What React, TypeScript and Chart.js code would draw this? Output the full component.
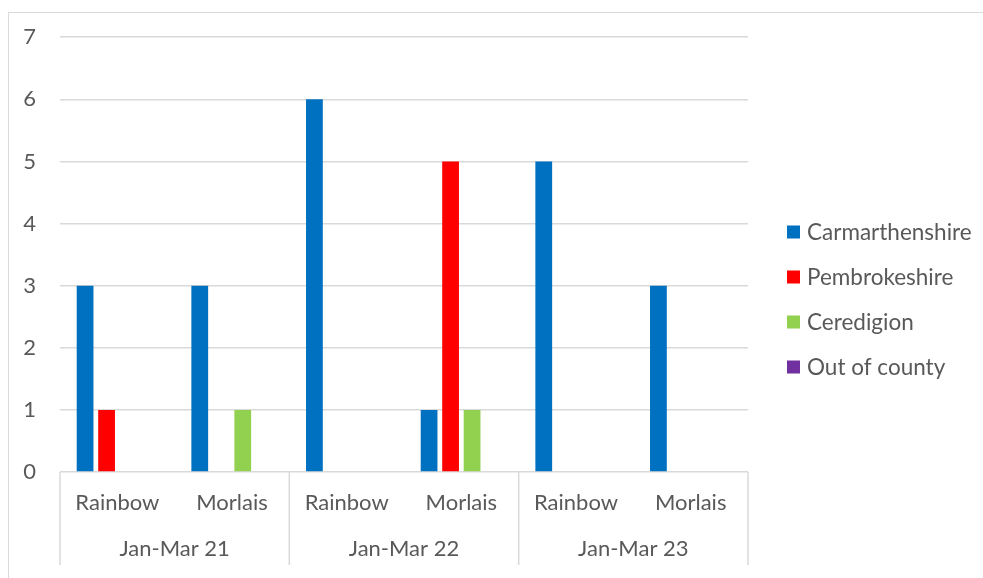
import React, { useEffect, useRef } from "react";
import { Chart, registerables } from "chart.js";

Chart.register(...registerables);

const categories = ["Rainbow", "Morlais", "Rainbow", "Morlais", "Rainbow", "Morlais"];
const periods = ["Jan-Mar 21", "Jan-Mar 22", "Jan-Mar 23"];
const seriesNames = ["Carmarthenshire", "Pembrokeshire", "Ceredigion", "Out of county"];
const carmarthenshire = [3, 3, 6, 1, 5, 3];
const pembrokeshire = [1, 0, 0, 5, 0, 0];
const ceredigion = [0, 1, 0, 1, 0, 0];
const outOfCounty = [0, 0, 0, 0, 0, 0];
const seriesColors = ["#0070C0", "#FF0000", "#92D050", "#7030A0"];
const yMin = 0;
const yMax = 7;
const yStep = 1;

const FONT = "Lato, 'Open Sans', sans-serif";
const TEXT = "#595959";
const GRID = "#d9d9d9";

const decorPlugin = {
  id: "decor",
  beforeDraw(chart: any) {
    const ctx = chart.ctx;
    ctx.save();
    ctx.strokeStyle = GRID;
    ctx.lineWidth = 1;
    ctx.strokeRect(8.5, 12.5, 1100, 700);
    ctx.restore();
  },
  afterDraw(chart: any) {
    const ctx = chart.ctx;
    const x = chart.scales.x;
    const area = chart.chartArea;
    const n = categories.length;
    const cw = (area.right - area.left) / n;
    ctx.save();
    // separators between period groups
    ctx.strokeStyle = GRID;
    ctx.lineWidth = 1.5;
    for (let k = 0; k <= periods.length; k++) {
      const px = k * 2 < n ? x.getPixelForValue(k * 2) - cw / 2 : x.getPixelForValue(n - 1) + cw / 2;
      ctx.beginPath();
      ctx.moveTo(px, area.bottom);
      ctx.lineTo(px, 565);
      ctx.stroke();
    }
    // group labels
    ctx.fillStyle = TEXT;
    ctx.font = `22px ${FONT}`;
    ctx.textAlign = "center";
    ctx.textBaseline = "middle";
    periods.forEach((p, i) => {
      const cx = (x.getPixelForValue(i * 2) + x.getPixelForValue(i * 2 + 1)) / 2;
      ctx.fillText(p, cx, 549);
    });
    // legend
    const lx = area.right + 39;
    const ly0 = 232;
    const gap = 45;
    ctx.textAlign = "left";
    ctx.font = `22.5px ${FONT}`;
    chart.data.datasets.forEach((ds: any, i: number) => {
      const cy = ly0 + i * gap;
      ctx.fillStyle = ds.backgroundColor;
      ctx.fillRect(lx, cy - 6.5, 13, 13);
      ctx.fillStyle = TEXT;
      ctx.fillText(ds.label, lx + 20, cy + 1);
    });
    ctx.restore();
  },
};

export default function App() {
  const ref = useRef<HTMLCanvasElement>(null);
  useEffect(() => {
    if (!ref.current) return;
    const values = [carmarthenshire, pembrokeshire, ceredigion, outOfCounty];
    const chart = new Chart(ref.current, {
      type: "bar",
      data: {
        labels: categories,
        datasets: seriesNames.map((name, i) => ({
          label: name,
          data: values[i],
          backgroundColor: seriesColors[i],
          borderWidth: 0,
          barPercentage: 0.78,
          categoryPercentage: 0.75,
        })),
      },
      options: {
        responsive: false,
        animation: false,
        layout: { padding: { top: 37, right: 235, bottom: 0, left: 0 } },
        plugins: { legend: { display: false }, tooltip: { enabled: false } },
        scales: {
          x: {
            grid: { display: false, drawTicks: false },
            border: { display: false },
            ticks: {
              color: TEXT,
              font: { family: FONT, size: 22 },
              padding: 18,
              maxRotation: 0,
              autoSkip: false,
            },
            afterFit(s: any) {
              s.height = 106;
            },
          },
          y: {
            min: yMin,
            max: yMax,
            grid: { color: GRID, lineWidth: 1.5, drawTicks: false },
            border: { display: false },
            ticks: {
              stepSize: yStep,
              color: TEXT,
              font: { family: FONT, size: 22 },
              padding: 24,
            },
            afterFit(s: any) {
              s.width = 60;
            },
          },
        },
      },
      plugins: [decorPlugin],
    });
    return () => chart.destroy();
  }, []);
  return (
    <div style={{ position: "absolute", left: 0, top: 0, width: 983, height: 578, background: "#fff" }}>
      <canvas ref={ref} width={983} height={578} style={{ display: "block" }} />
    </div>
  );
}
